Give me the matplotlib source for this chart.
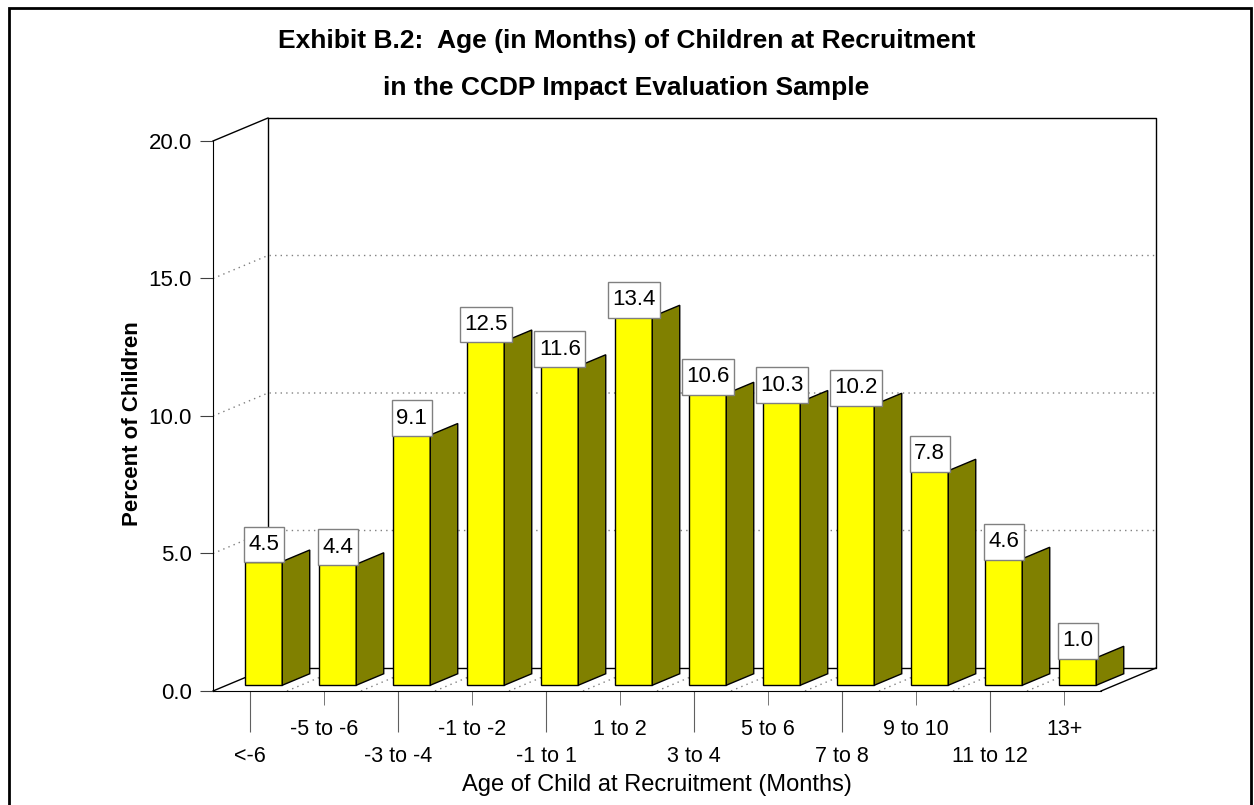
import matplotlib
matplotlib.use('Agg')
import matplotlib.pyplot as plt
import matplotlib as mpl
from matplotlib.patches import Polygon, Rectangle
from matplotlib.path import Path

mpl.rcParams['font.family'] = ['Liberation Sans', 'DejaVu Sans']

categories = ['<-6', '-5 to -6', '-3 to -4', '-1 to -2', '-1 to 1', '1 to 2',
              '3 to 4', '5 to 6', '7 to 8', '9 to 10', '11 to 12', '13+']
percent = [4.5, 4.4, 9.1, 12.5, 11.6, 13.4, 10.6, 10.3, 10.2, 7.8, 4.6, 1.0]
yticks = [0, 5, 10, 15, 20]

title_lines = ['Exhibit B.2:  Age (in Months) of Children at Recruitment',
               'in the CCDP Impact Evaluation Sample']

# oblique depth of the box in data units (x = category, y = percent)
DX, DY = 0.743, 0.836
front, back = 0.25, 0.75   # bar depth as fraction of the floor depth
half = 0.25                # half bar width


def label_box(x0, y0, width, height, mutation_size):
    # value label box: more padding above/below than left/right
    px, py = 0.2 * mutation_size, 0.33 * mutation_size
    xa, ya = x0 - px, y0 - py
    xb, yb = x0 + width + px, y0 + height + py
    return Path([(xa, ya), (xb, ya), (xb, yb), (xa, yb), (xa, ya)], closed=True)


fig = plt.figure(figsize=(12.54, 8.05), dpi=100)
ax = fig.add_axes([213/1254, 114/805, 943/1254, 573/805])
n = len(categories)
x0, x1 = -0.5, n - 0.5
ytop = yticks[-1]
ax.set_xlim(x0, x1 + DX)
ax.set_ylim(0, ytop + DY)
ax.patch.set_visible(False)

# back wall, floor and side wall edges
edge = dict(color='black', lw=1.0, clip_on=False, zorder=1)
ax.plot([x0+DX, x1+DX, x1+DX, x0+DX, x0+DX], [DY, DY, ytop+DY, ytop+DY, DY], **edge)
ax.plot([x0, x0+DX], [ytop, ytop+DY], **edge)
ax.plot([x0, x0+DX], [0, DY], **edge)
ax.plot([x1, x1+DX], [0, DY], **edge)

# dotted grid on the walls and floor
grid = dict(color='#808080', lw=1.0, ls=(0, (1, 3)), zorder=1)
for v in yticks[1:-1]:
    ax.plot([x0, x0+DX, x1+DX], [v, v+DY, v+DY], **grid)
for k in range(1, n):
    ax.plot([x0+k, x0+k+DX], [0, DY], **grid)

# bars: yellow front, olive side
d = back - front
for i, v in enumerate(percent):
    xl = i - half + front*DX
    xr = i + half + front*DX
    yb = front*DY
    ax.add_patch(Rectangle((xl, yb), 2*half, v, fc='#ffff00', ec='black', lw=1, zorder=3))
    side = [(xr, yb), (xr + d*DX, yb + d*DY), (xr + d*DX, yb + d*DY + v), (xr, yb + v)]
    ax.add_patch(Polygon(side, closed=True, fc='#808000', ec='black', lw=1, zorder=3))
    ax.annotate(f'{v:.1f}', xy=(i + front*DX, yb + v), xytext=(0, 12.2),
                textcoords='offset points', ha='center', va='center', fontsize=16,
                bbox=dict(boxstyle=label_box, fc='white', ec='#808080', lw=1),
                zorder=5)

for s in ['top', 'right']:
    ax.spines[s].set_visible(False)
ax.spines['left'].set_bounds(0, ytop)
ax.spines['bottom'].set_bounds(x0, x1)

ax.set_yticks(yticks)
ax.set_yticklabels([f'{t:.1f}' for t in yticks])
ax.tick_params(axis='y', length=9.4, pad=5.8, labelsize=16, color='#404040')

ax.set_xticks(range(0, n, 2))
ax.set_xticklabels(categories[0::2])
ax.set_xticks(range(1, n, 2), minor=True)
ax.set_xticklabels(categories[1::2], minor=True)
ax.tick_params(axis='x', which='major', length=29.5, pad=10, labelsize=15.5, color='#606060')
ax.tick_params(axis='x', which='minor', length=10, pad=10, labelsize=15.5, color='#606060')

ax.set_xlabel('Age of Child at Recruitment (Months)', fontsize=17)
ax.xaxis.set_label_coords(0.471, -0.1448)
ax.set_ylabel('Percent of Children', fontsize=16, fontweight='bold')
ax.yaxis.set_label_coords(-0.0742, 0.466)

# two-line title, baselines at 48 px and 95 px from the top
for line, base in zip(title_lines, [48, 95]):
    fig.text(0.4996, (805 - base)/805, line, fontsize=19, fontweight='bold',
             ha='center', va='baseline')

# frame around the whole picture
fig.patches.append(Rectangle((9/1254, -0.01), 1242/1254, 1.0, transform=fig.transFigure,
                             fill=False, ec='black', lw=2))

fig.savefig('out.png', dpi=100)
